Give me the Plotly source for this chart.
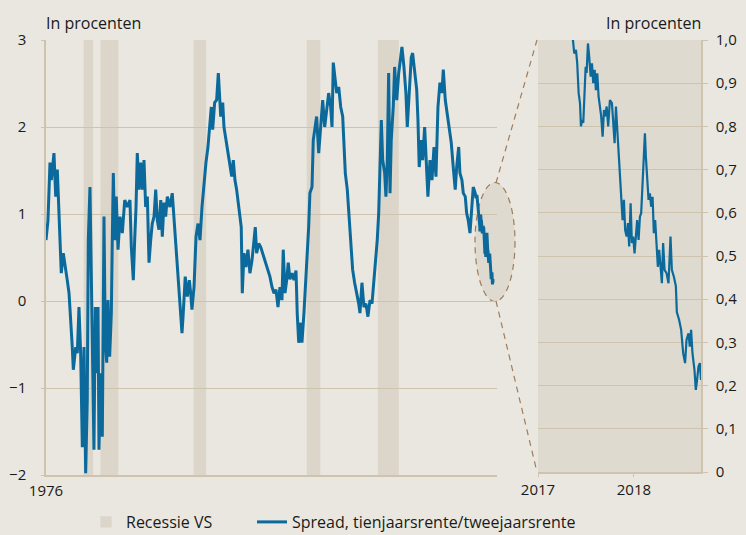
import plotly.graph_objects as go

# ---------------- data ----------------
years = [
    1976.00, 1976.19, 1976.38, 1976.51, 1976.76, 1976.93, 1977.08, 1977.24, 1977.34, 1977.40,
    1977.46, 1977.65, 1977.88, 1978.03, 1978.20, 1978.36, 1978.51, 1978.61, 1978.84, 1978.99,
    1979.15, 1979.31, 1979.47, 1979.63, 1979.79, 1979.94, 1980.04, 1980.20, 1980.33, 1980.46,
    1980.58, 1980.71, 1980.84, 1980.97, 1981.06, 1981.22, 1981.38, 1981.54, 1981.66, 1981.80,
    1981.92, 1982.08, 1982.24, 1982.33, 1982.43, 1982.56, 1982.71, 1982.88, 1983.07, 1983.29,
    1983.52, 1983.77, 1984.02, 1984.15, 1984.34, 1984.47, 1984.60, 1984.72, 1984.88, 1985.04,
    1985.20, 1985.36, 1985.52, 1985.68, 1985.84, 1986.00, 1986.15, 1986.32, 1986.48, 1986.63,
    1986.79, 1986.96, 1987.11, 1987.27, 1987.43, 1987.59, 1987.84, 1988.06, 1988.23, 1988.42,
    1988.61, 1988.80, 1988.99, 1989.11, 1989.30, 1989.50, 1989.69, 1989.82, 1989.94, 1990.14,
    1990.33, 1990.52, 1990.71, 1990.90, 1991.09, 1991.28, 1991.47, 1991.60, 1991.79, 1991.92,
    1992.11, 1992.30, 1992.46, 1992.69, 1992.88, 1993.00, 1993.19, 1993.38, 1993.57, 1993.74,
    1993.89, 1994.05, 1994.21, 1994.37, 1994.53, 1994.65, 1994.75, 1994.91, 1995.10, 1995.29,
    1995.48, 1995.68, 1995.87, 1995.99, 1996.12, 1996.32, 1996.51, 1996.70, 1996.92, 1997.14,
    1997.39, 1997.59, 1997.78, 1997.97, 1998.16, 1998.35, 1998.54, 1998.66, 1998.83, 1998.99,
    1999.14, 1999.30, 1999.50, 1999.69, 1999.88, 2000.00, 2000.14, 2000.33, 2000.45, 2000.64,
    2000.83, 2000.96, 2001.09, 2001.21, 2001.41, 2001.53, 2001.72, 2001.85, 2002.05, 2002.24,
    2002.43, 2002.62, 2002.81, 2003.00, 2003.19, 2003.32, 2003.44, 2003.63, 2003.77, 2003.96,
    2004.15, 2004.34, 2004.46, 2004.59, 2004.78, 2004.91, 2005.03, 2005.16, 2005.29, 2005.48,
    2005.68, 2005.87, 2005.99, 2006.18, 2006.37, 2006.56, 2006.75, 2006.95, 2007.14, 2007.33,
    2007.52, 2007.64, 2007.78, 2007.90, 2008.03, 2008.16, 2008.35, 2008.47, 2008.60, 2008.73,
    2008.86, 2008.98, 2009.17, 2009.30, 2009.50, 2009.69, 2009.88, 2010.00, 2010.19, 2010.38,
    2010.51, 2010.70, 2010.89, 2011.02, 2011.21, 2011.41, 2011.53, 2011.65, 2011.85, 2011.98,
    2012.17, 2012.36, 2012.48, 2012.68, 2012.87, 2013.06, 2013.25, 2013.44, 2013.63, 2013.82,
    2013.95, 2014.14, 2014.33, 2014.52, 2014.71, 2014.90, 2015.09, 2015.23, 2015.42, 2015.54,
    2015.73, 2015.86, 2016.05, 2016.18, 2016.33, 2016.50, 2016.69, 2016.81, 2017.00, 2017.08,
    2017.16, 2017.25, 2017.32, 2017.36, 2017.378, 2017.396, 2017.409, 2017.424, 2017.438, 2017.448,
    2017.461, 2017.472, 2017.486, 2017.497, 2017.507, 2017.521, 2017.534, 2017.549, 2017.563, 2017.576,
    2017.591, 2017.604, 2017.618, 2017.632, 2017.646, 2017.659, 2017.674, 2017.688, 2017.701, 2017.716,
    2017.732, 2017.750, 2017.771, 2017.784, 2017.799, 2017.813, 2017.826, 2017.841, 2017.854, 2017.868,
    2017.882, 2017.896, 2017.909, 2017.924, 2017.938, 2017.951, 2017.966, 2017.979, 2017.993, 2018.007,
    2018.021, 2018.034, 2018.049, 2018.063, 2018.076, 2018.091, 2018.104, 2018.115, 2018.125, 2018.139,
    2018.153, 2018.167, 2018.180, 2018.195, 2018.208, 2018.222, 2018.236, 2018.250, 2018.264, 2018.278,
    2018.292, 2018.305, 2018.320, 2018.341, 2018.361, 2018.382, 2018.396, 2018.417, 2018.438, 2018.448,
    2018.472, 2018.493, 2018.514, 2018.534, 2018.549, 2018.570, 2018.583, 2018.597, 2018.611, 2018.632,
    2018.646, 2018.659, 2018.674, 2018.688, 2018.700,
]
spread = [
    0.70, 0.93, 1.59, 1.39, 1.70, 1.20, 1.51, 0.93, 0.70, 0.59,
    0.32, 0.55, 0.39, 0.24, 0.09, -0.18, -0.53, -0.79, -0.53, -0.60,
    -0.07, -0.60, -1.68, -0.53, -1.98, -1.14, 0.70, 1.31, 0.32, -1.02,
    -1.71, -0.07, -0.83, -0.07, -1.71, -0.83, -1.56, 0.97, -0.45, -0.71,
    0.01, -0.64, -0.14, 0.70, 1.47, 0.70, 1.20, 0.59, 0.97, 0.78,
    1.16, 1.08, 1.16, 0.62, 0.24, 0.70, 1.08, 1.70, 1.28, 1.59,
    1.28, 1.62, 1.08, 1.20, 0.44, 0.70, 0.89, 0.97, 1.28, 0.93,
    0.82, 1.16, 0.74, 1.13, 0.97, 1.20, 1.08, 1.24, 0.95, 0.55,
    0.24, -0.14, -0.37, -0.14, 0.28, 0.05, 0.24, 0.09, -0.10, 0.16,
    0.74, 0.89, 0.70, 1.08, 1.39, 1.59, 1.77, 2.00, 2.23, 1.97,
    2.28, 2.31, 2.62, 2.12, 2.28, 2.00, 1.85, 1.70, 1.54, 1.43,
    1.62, 1.39, 1.28, 1.13, 1.01, 0.85, 0.09, 0.55, 0.39, 0.59,
    0.32, 0.47, 0.70, 0.85, 0.55, 0.66, 0.62, 0.55, 0.47, 0.39,
    0.28, 0.16, 0.09, 0.13, -0.07, 0.16, 0.01, 0.59, 0.09, 0.24,
    0.44, 0.25, 0.32, 0.24, 0.35, -0.15, -0.48, -0.25, -0.48, -0.14,
    0.24, 0.55, 0.85, 1.24, 1.31, 1.85, 2.00, 2.12, 1.70, 2.00,
    2.31, 2.00, 2.23, 2.39, 2.23, 2.00, 2.74, 2.54, 2.39, 2.46,
    2.23, 2.12, 1.85, 1.47, 1.28, 1.01, 0.78, 0.59, 0.36, 0.21,
    0.09, -0.03, -0.14, 0.21, -0.07, -0.03, -0.18, 0.01, -0.03, 0.24,
    0.51, 0.70, 1.01, 1.47, 2.08, 1.62, 1.47, 1.20, 1.62, 2.62,
    1.24, 1.85, 2.23, 2.69, 2.31, 2.62, 2.85, 2.92, 2.69, 2.39,
    2.00, 2.43, 2.80, 2.85, 2.66, 2.43, 2.08, 1.54, 1.85, 1.62,
    2.00, 1.39, 1.20, 1.62, 1.39, 1.77, 1.43, 2.23, 2.51, 2.39,
    2.66, 2.31, 2.16, 2.00, 1.82, 1.54, 1.28, 1.54, 1.77, 1.47,
    1.39, 1.24, 1.20, 1.01, 0.93, 0.78, 1.05, 1.31, 1.24, 1.18,
    1.22, 1.12, 1.06, 1.01, 0.969, 0.977, 0.946, 0.877, 0.854, 0.800,
    0.815, 0.808, 0.869, 0.938, 0.924, 0.992, 0.961, 0.915, 0.946, 0.900,
    0.931, 0.884, 0.923, 0.869, 0.846, 0.823, 0.776, 0.838, 0.823, 0.846,
    0.800, 0.861, 0.854, 0.807, 0.761, 0.846, 0.792, 0.745, 0.692, 0.646,
    0.583, 0.630, 0.560, 0.545, 0.576, 0.522, 0.622, 0.530, 0.545, 0.506,
    0.560, 0.583, 0.537, 0.591, 0.599, 0.676, 0.714, 0.784, 0.730, 0.668,
    0.630, 0.645, 0.614, 0.637, 0.553, 0.583, 0.522, 0.475, 0.514, 0.483,
    0.437, 0.530, 0.468, 0.460, 0.437, 0.545, 0.468, 0.452, 0.430, 0.370,
    0.352, 0.329, 0.275, 0.252, 0.306, 0.321, 0.290, 0.329, 0.275, 0.236,
    0.190, 0.213, 0.244, 0.252, 0.213,
]

rec_start = [1979.6, 1981.2, 1990.1, 2000.9, 2007.7]
rec_end = [1980.5, 1982.9, 1991.3, 2002.2, 2009.7]

main_yticks = [-2, -1, 0, 1, 2, 3]
main_yticklabels = ["\u22122", "\u22121", "0", "1", "2", "3"]
main_xticks = [1976]
main_xticklabels = ["1976"]
inset_yticks = [0, 0.1, 0.2, 0.3, 0.4, 0.5, 0.6, 0.7, 0.8, 0.9, 1.0]
inset_yticklabels = ["0", "0,1", "0,2", "0,3", "0,4", "0,5", "0,6", "0,7", "0,8", "0,9", "1,0"]
inset_xticks = [2017, 2018]
inset_xticklabels = ["2017", "2018"]

# ---------------- style ----------------
W, H = 746, 535
BG = "#e9e7df"
REC = "#dcd6ca"
INSET_BG = "#dedacf"
GRID = "#cec3ac"
LINE = "#0b6a9b"
DASH = "#a07c5c"
TXT = "#1a1a1a"
FONT = "Open Sans"

def px(x):
    return x / W

def py(y):
    return 1 - y / H

fig = go.Figure()

fig.add_trace(go.Bar(x=[None], y=[None], marker_color=REC, name="Recessie VS",
                     xaxis="x", yaxis="y", showlegend=True, legend="legend"))
fig.add_trace(go.Scatter(x=years, y=spread, mode="lines", xaxis="x", yaxis="y",
                         line=dict(color=LINE, width=3),
                         name="Spread, tienjaarsrente/tweejaarsrente", showlegend=True,
                         legend="legend2"))
fig.add_trace(go.Scatter(x=years, y=spread, mode="lines", xaxis="x2", yaxis="y2",
                         line=dict(color=LINE, width=2.2), showlegend=False,
                         name="Spread"))

shapes = []
# inset background
shapes.append(dict(type="rect", xref="x2 domain", yref="y2 domain", x0=0, x1=1, y0=0, y1=1,
                   fillcolor=INSET_BG, line=dict(width=0), layer="below"))
# recession bands
for s, e in zip(rec_start, rec_end):
    shapes.append(dict(type="rect", xref="x", yref="y domain", x0=s, x1=e, y0=0, y1=1,
                       fillcolor=REC, line=dict(width=0), layer="below"))
# zoom ellipse and connectors
shapes.append(dict(type="circle", xref="paper", yref="paper",
                   x0=px(475), x1=px(515), y0=py(301.5), y1=py(182.5),
                   fillcolor=INSET_BG, line=dict(color=DASH, width=1.2, dash="6px,5px"),
                   layer="below"))
shapes.append(dict(type="line", xref="paper", yref="paper",
                   x0=px(496), y0=py(183), x1=px(537), y1=py(40),
                   line=dict(color=DASH, width=1.2, dash="6px,5px")))
shapes.append(dict(type="line", xref="paper", yref="paper",
                   x0=px(496), y0=py(301), x1=px(537), y1=py(472),
                   line=dict(color=DASH, width=1.2, dash="6px,5px")))

annotations = [
    dict(text="In procenten", xref="paper", yref="paper", x=px(44), y=py(23),
         xanchor="left", yanchor="middle", showarrow=False, font=dict(size=16, color=TXT)),
    dict(text="In procenten", xref="paper", yref="paper", x=px(703), y=py(23),
         xanchor="right", yanchor="middle", showarrow=False, font=dict(size=16, color=TXT)),
]

tickfont = dict(size=15, color=TXT, family=FONT)
legfont = dict(size=16, color=TXT, family=FONT)

fig.update_layout(
    width=W, height=H,
    margin=dict(l=0, r=0, t=0, b=0, autoexpand=False),
    paper_bgcolor=BG, plot_bgcolor="rgba(0,0,0,0)",
    font=dict(family=FONT, color=TXT, size=15),
    shapes=shapes, annotations=annotations,
    showlegend=True,
    legend=dict(orientation="h", x=px(86), y=py(522), xanchor="left", yanchor="middle",
                font=legfont, bgcolor="rgba(0,0,0,0)"),
    legend2=dict(orientation="h", x=px(252), y=py(522), xanchor="left", yanchor="middle",
                 font=legfont, bgcolor="rgba(0,0,0,0)"),
    xaxis=dict(domain=[px(46), px(497)], range=[1976, 2019.08], anchor="y",
               tickvals=main_xticks, ticktext=main_xticklabels, tickfont=tickfont,
               showgrid=False, zeroline=False, showline=True, linecolor=GRID, linewidth=1.5,
               ticks="outside", ticklen=1, tickcolor="rgba(0,0,0,0)", fixedrange=True,
               automargin=False),
    yaxis=dict(domain=[py(475), py(40)], range=[-2, 3], anchor="x",
               tickvals=main_yticks, ticktext=main_yticklabels, tickfont=tickfont,
               showgrid=True, gridcolor=GRID, gridwidth=1.3, zeroline=False,
               showline=True, linecolor=GRID, linewidth=1.5,
               ticks="outside", ticklen=3, tickcolor=GRID, ticklabelstandoff=12,
               fixedrange=True, automargin=False),
    xaxis2=dict(domain=[px(538), px(701)], range=[2017, 2018.70], anchor="y2",
                tickvals=inset_xticks, ticktext=inset_xticklabels, tickfont=tickfont,
                showgrid=False, zeroline=False, showline=True, linecolor=GRID, linewidth=1.5,
                ticks="outside", ticklen=3, tickcolor=GRID, fixedrange=True,
                automargin=False),
    yaxis2=dict(domain=[py(472), py(40)], range=[0, 1.0], anchor="x2", side="right",
                tickvals=inset_yticks, ticktext=inset_yticklabels, tickfont=tickfont,
                showgrid=True, gridcolor=GRID, gridwidth=1.3, zeroline=False,
                showline=True, linecolor=GRID, linewidth=1.5,
                ticks="outside", ticklen=5, tickcolor=GRID, ticklabelstandoff=5,
                fixedrange=True, automargin=False),
)

fig.write_html("out.html", config={"displayModeBar": False},
               post_script="document.body.style.margin='0px';document.body.style.overflow='hidden';")
